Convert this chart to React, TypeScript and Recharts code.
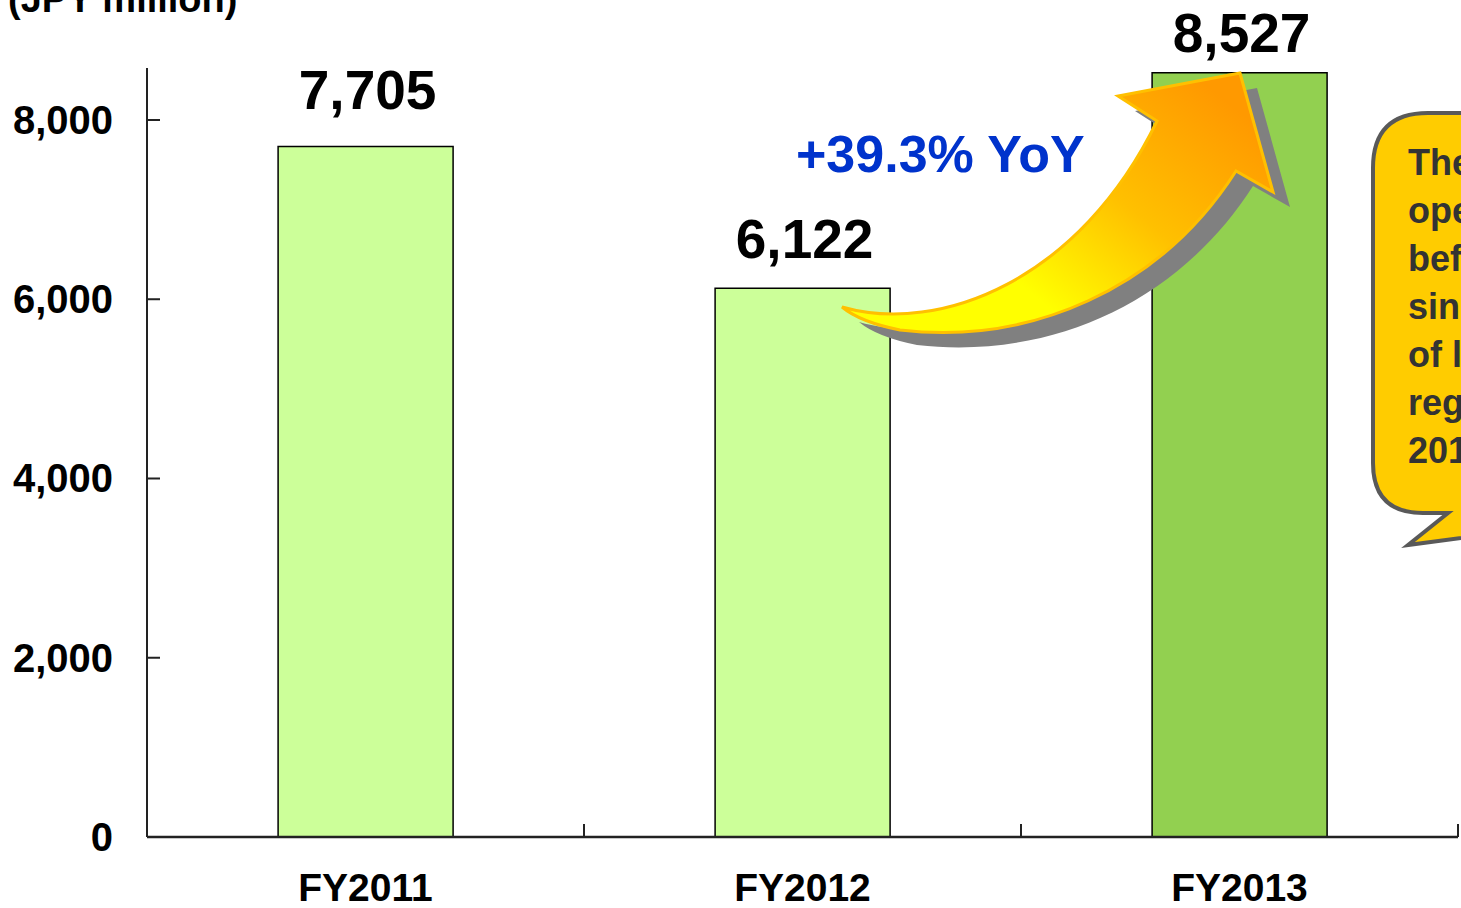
import { BarChart, Bar, XAxis, YAxis, Cell, LabelList } from "recharts";

const years = ["FY2011", "FY2012", "FY2013"];
const income = [7705, 6122, 8527];
const yTicks = [0, 2000, 4000, 6000, 8000];
const growthNote = "+39.3% YoY";
const unitNote = "(JPY million)";
const bubbleLines = ["The increase in", "operating income", "before tax", "since the start", "of large", "regulations in", "2013"];

const BAR_FILLS = ["#CCFF99", "#CCFF99", "#92D050"];
// gap between bar top and value label baseline, as laid out in the slide
const LABEL_GAPS = [37, 30, 21];
const FONT = "'Liberation Sans', Arial, sans-serif";

const W = 1461;
const H = 908;
const Y_AXIS_W = 147;
const TOP = 68;
const RIGHT = 3;
const X_AXIS_H = 71;
const BASE_Y = H - X_AXIS_H;
const BAND = (W - Y_AXIS_W - RIGHT) / years.length;

const data = years.map((name, i) => ({ name, value: income[i] }));

function YTick({ y, payload }: any) {
  return (
    <g>
      <line x1={Y_AXIS_W} x2={Y_AXIS_W + 13} y1={y} y2={y} stroke="#222" strokeWidth={2} />
      <text x={113} y={y + 14} textAnchor="end" fontFamily={FONT} fontWeight="bold" fontSize={40} fill="#000">
        {payload.value.toLocaleString("en-US")}
      </text>
    </g>
  );
}

function XTick({ x, payload }: any) {
  return (
    <g>
      <line x1={x + BAND / 2} x2={x + BAND / 2} y1={BASE_Y} y2={BASE_Y - 13} stroke="#222" strokeWidth={2} />
      <text x={x} y={901} textAnchor="middle" fontFamily={FONT} fontWeight="bold" fontSize={39} fill="#000">
        {payload.value}
      </text>
    </g>
  );
}

function ValueLabel({ x, y, width, value, index }: any) {
  return (
    <text
      x={x + width / 2 + 2}
      y={y - LABEL_GAPS[index ?? 0]}
      textAnchor="middle"
      fontFamily={FONT}
      fontWeight="bold"
      fontSize={55}
      fill="#000"
    >
      {Number(value).toLocaleString("en-US")}
    </text>
  );
}

const ARROW =
  "M 842 307 C 940 335, 1080 280, 1157 121 L 1118 96 L 1240 73 L 1273 192 L 1236 171 " +
  "C 1160 290, 1030 345, 900 330 Q 860 322, 842 307 Z";

const BUBBLE =
  "M 1520 113 L 1428 113 Q 1373 113 1373 168 L 1373 463 Q 1373 513 1423 513 L 1448 513 " +
  "L 1408 545 L 1520 530 Z";

function Overlay() {
  return (
    <svg width={W} height={H} style={{ position: "absolute", left: 0, top: 0, pointerEvents: "none" }}>
      <defs>
        <linearGradient id="arrowGrad" gradientUnits="userSpaceOnUse" x1={1200} y1={80} x2={1000} y2={330}>
          <stop offset="0" stopColor="#FF9900" />
          <stop offset="0.45" stopColor="#FFC000" />
          <stop offset="0.85" stopColor="#FFFF00" />
        </linearGradient>
      </defs>
      <text x={8} y={12} fontFamily={FONT} fontWeight="bold" fontSize={38} fill="#000">
        {unitNote}
      </text>
      <path d={ARROW} transform="translate(17 15)" fill="#808080" />
      <path d={ARROW} fill="url(#arrowGrad)" stroke="#FFC000" strokeWidth={3} strokeLinejoin="miter" />
      <text x={796} y={172} fontFamily={FONT} fontWeight="bold" fontSize={52} fill="#0033CC">
        {growthNote}
      </text>
      <path d={BUBBLE} fill="#FFCC00" stroke="#595959" strokeWidth={4} strokeLinejoin="miter" />
      {bubbleLines.map((line, i) => (
        <text key={line} x={1408} y={175 + i * 48} fontFamily={FONT} fontWeight="bold" fontSize={36} fill="#333">
          {line}
        </text>
      ))}
    </svg>
  );
}

export default function App() {
  return (
    <div style={{ position: "absolute", left: 0, top: 0, width: W, height: H, overflow: "hidden", background: "#fff" }}>
      <BarChart
        width={W}
        height={H}
        data={data}
        margin={{ top: TOP, right: RIGHT, bottom: 0, left: 0 }}
        barCategoryGap="30%"
      >
        <YAxis
          width={Y_AXIS_W}
          domain={[0, 8580]}
          ticks={yTicks}
          interval={0}
          tickLine={false}
          axisLine={{ stroke: "#222", strokeWidth: 2 }}
          tick={<YTick />}
        />
        <XAxis
          dataKey="name"
          height={X_AXIS_H}
          tickLine={false}
          axisLine={{ stroke: "#222", strokeWidth: 2.5 }}
          tick={<XTick />}
          interval={0}
        />
        <Bar dataKey="value" stroke="#000" strokeWidth={1.5} isAnimationActive={false}>
          {data.map((d, i) => (
            <Cell key={d.name} fill={BAR_FILLS[i]} />
          ))}
          <LabelList dataKey="value" content={<ValueLabel />} />
        </Bar>
      </BarChart>
      <Overlay />
    </div>
  );
}
